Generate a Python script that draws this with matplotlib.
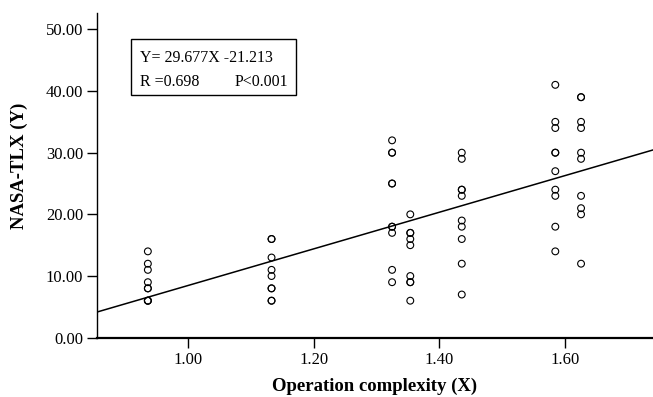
import numpy as np
import matplotlib
matplotlib.use('Agg')
import matplotlib.pyplot as plt

plt.rcParams['font.family'] = ['Liberation Serif', 'DejaVu Serif']

# operation complexity of each task group and its NASA-TLX scores
complexity = [0.936, 1.133, 1.325, 1.354, 1.436, 1.585, 1.626]
tlx_scores = [
    [14, 12, 11, 9, 8, 8, 6, 6, 6],
    [16, 16, 13, 11, 10, 8, 8, 6, 6],
    [32, 30, 30, 25, 25, 18, 18, 17, 11, 9],
    [20, 17, 17, 16, 15, 10, 9, 9, 6],
    [30, 29, 24, 24, 23, 19, 18, 16, 12, 7],
    [41, 35, 34, 30, 30, 27, 24, 23, 18, 14],
    [39, 39, 35, 34, 30, 29, 23, 21, 20, 12],
]
slope = 29.677
intercept = -21.213
x_ticks = [1.00, 1.20, 1.40, 1.60]
y_ticks = [0, 10, 20, 30, 40, 50]

xs = np.concatenate([[c] * len(s) for c, s in zip(complexity, tlx_scores)])
ys = np.concatenate([np.array(s, dtype=float) for s in tlx_scores])

fig = plt.figure(figsize=(6.53, 3.97), dpi=100)
ax = fig.add_axes([97 / 653, 1 - 337.7 / 397, 1 - 97 / 653, (337.7 - 13.3) / 397])

xlim = (0.855, 1.7406)
ax.set_xlim(*xlim)
ax.set_ylim(0, 52.6)

ax.scatter(xs, ys, s=24, facecolors='none', edgecolors='black', linewidths=0.8, zorder=3)

line_x = np.array(xlim)
ax.plot(line_x, slope * line_x + intercept, color='black', linewidth=1.1)

for side in ['top', 'right']:
    ax.spines[side].set_visible(False)
ax.spines['left'].set_linewidth(1.0)
ax.spines['bottom'].set_linewidth(1.6)

ax.set_xticks(x_ticks)
ax.set_xticklabels([f'{v:.2f}' for v in x_ticks])
ax.set_yticks(y_ticks)
ax.set_yticklabels([f'{v:.2f}' for v in y_ticks])
ax.tick_params(axis='both', direction='out', length=7, width=1, labelsize=12, pad=3, colors='black')

ax.set_xlabel('Operation complexity (X)', fontsize=13.5, fontweight='bold', labelpad=7)
ax.set_ylabel('NASA-TLX (Y)', fontsize=13.5, fontweight='bold')
ax.yaxis.set_label_coords(-0.124, 0.53)

# regression box
box = plt.Rectangle((131 / 653, 1 - 95 / 397), (296 - 131) / 653, (95 - 39) / 397,
                    transform=fig.transFigure, fill=False, edgecolor='black', linewidth=1.0)
fig.patches.append(box)
fig.text(140 / 653, 1 - 58 / 397, f'Y= {slope:.3f}X {intercept:.3f}', fontsize=11.5, va='center', ha='left')
fig.text(140 / 653, 1 - 82 / 397, 'R =0.698', fontsize=11.5, va='center', ha='left')
fig.text(235 / 653, 1 - 82 / 397, 'P<0.001', fontsize=11.5, va='center', ha='left')

fig.savefig('out.png', dpi=100)
